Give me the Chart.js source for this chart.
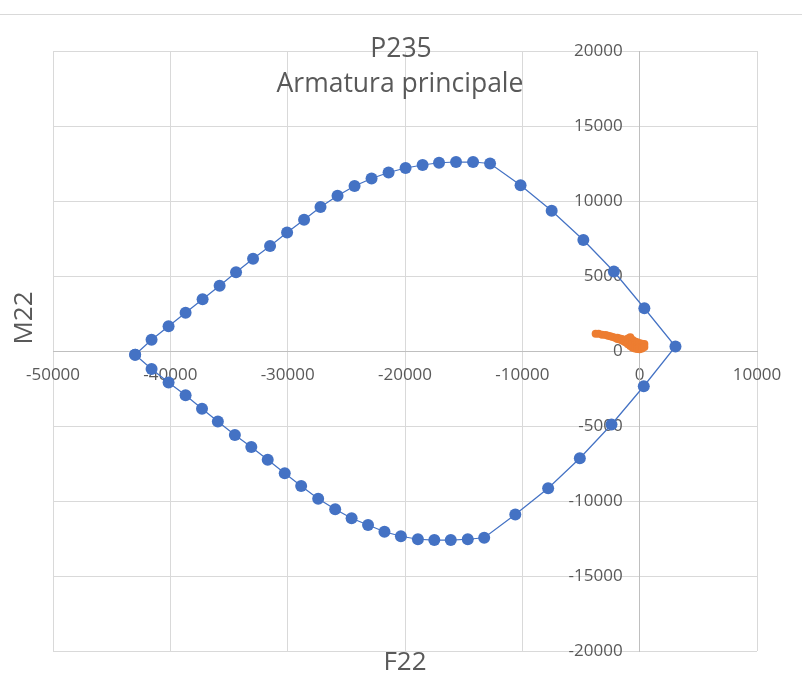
<!DOCTYPE html>
<html>
<head>
<meta charset="utf-8">
<script src="https://cdn.jsdelivr.net/npm/chart.js@4.4.1/dist/chart.umd.min.js"></script>
<style>
  html, body { margin: 0; padding: 0; background: #fff; }
  #wrap { width: 802px; height: 673px; position: relative; }
</style>
</head>
<body>
<div id="wrap"><canvas id="chart" width="802" height="673"></canvas></div>
<script>
// dominio di interazione (F22, M22) - armatura principale
const blueF22 = [-43000, -41600, -40150, -38700, -37250, -35800, -34400, -32950, -31500, -30050,
  -28600, -27200, -25750, -24300, -22850, -21400, -19950, -18500, -17100, -15650,
  -14200, -12750, -10150, -7500, -4800, -2200, 400, 3050,
  350, -2400, -5100, -7800, -10600, -13250, -14650, -16100, -17500, -18900,
  -20350, -21750, -23150, -24550, -25950, -27400, -28850, -30250, -31700, -33100,
  -34500, -35950, -37300, -38700, -40150, -41600, -43000];
const blueM22 = [-250, 750, 1650, 2550, 3450, 4350, 5250, 6150, 7000, 7900,
  8750, 9600, 10350, 11000, 11500, 11900, 12200, 12400, 12550, 12600,
  12600, 12500, 11050, 9350, 7400, 5300, 2850, 300,
  -2350, -4900, -7150, -9150, -10900, -12450, -12550, -12600, -12600, -12550,
  -12350, -12050, -11600, -11150, -10550, -9850, -9000, -8150, -7250, -6400,
  -5600, -4700, -3850, -2950, -2100, -1200, -250];

// sollecitazioni agenti
const orangeF22 = [-3750, -3500, -3200, -2900, -2700, -2500, -2300, -2100, -1900, -1900,
  -1700, -1700, -1500, -1500, -1300, -1300, -1150, -1150, -1000, -1000,
  -1000, -800, -800, -800, -600, -600, -600, -400, -400, -400,
  -200, -200, -200, 0, 0, 0, 200, 200, 200, 400, 400];
const orangeM22 = [1150, 1150, 1080, 1060, 1020, 980, 940, 890, 880, 800,
  840, 760, 800, 700, 740, 620, 720, 560, 830, 600,
  450, 910, 650, 330, 730, 500, 220, 630, 400, 170,
  580, 350, 140, 510, 300, 110, 490, 280, 170, 470, 270];

const xTicks = [-50000, -40000, -30000, -20000, -10000, 0, 10000];
const yTicks = [-20000, -15000, -10000, -5000, 0, 5000, 10000, 15000, 20000];

const chartTitle = ['P235', 'Armatura principale'];
const xTitle = 'F22';
const yTitle = 'M22';

function toPoints(xs, ys) {
    var pts = [];
    for (var i = 0; i < xs.length; i++) pts.push({x: xs[i], y: ys[i]});
    return pts;
}

const textColor = '#595959';
const fontFamily = "'Open Sans', 'Noto Sans', sans-serif";

// titoli disegnati sopra l'area del grafico, come in Excel
const overlayTitles = {
    id: 'overlayTitles',
    beforeDraw(chart) {
        const c = chart.ctx;
        c.save();
        c.strokeStyle = '#d9d9d9';
        c.lineWidth = 1;
        c.beginPath();
        c.moveTo(0, 14.5);
        c.lineTo(chart.width, 14.5);
        c.stroke();
        c.restore();
    },
    afterDraw(chart) {
        const c = chart.ctx;
        const area = chart.chartArea;
        const cx = (area.left + area.right) / 2;
        c.save();
        c.fillStyle = textColor;
        c.textAlign = 'center';
        c.textBaseline = 'alphabetic';
        c.font = '26.5px ' + fontFamily;
        c.fillText(chartTitle[0], cx - 4, 57);
        c.fillText(chartTitle[1], cx - 5, 92);
        c.font = '26px ' + fontFamily;
        c.fillText(xTitle, cx, 670);
        c.translate(32, 318);
        c.rotate(-Math.PI / 2);
        c.fillText(yTitle, 0, 0);
        c.restore();
    }
};

function gridColor(ctx) {
    return ctx.tick && ctx.tick.value === 0 ? '#bfbfbf' : '#d9d9d9';
}

function plainLabel(value) {
    return String(value);
}

// l'asse y centrato allinea le etichette sulla linea: spazio finale per staccarle
function yLabel(value) {
    return String(value) + '\u2003';
}

new Chart(document.getElementById('chart'), {
    type: 'scatter',
    data: {
        datasets: [{
            label: 'Dominio',
            data: toPoints(blueF22, blueM22),
            showLine: true,
            borderColor: '#4472C4',
            borderWidth: 1.25,
            backgroundColor: '#4472C4',
            pointRadius: 6,
            pointBorderWidth: 0,
            pointBackgroundColor: '#4472C4'
        }, {
            label: 'Sollecitazioni',
            data: toPoints(orangeF22, orangeM22),
            showLine: false,
            backgroundColor: '#ED7D31',
            borderColor: '#ED7D31',
            pointRadius: 4,
            pointBorderWidth: 0,
            pointBackgroundColor: '#ED7D31'
        }]
    },
    options: {
        responsive: false,
        animation: false,
        layout: { padding: { left: 53, right: 45, top: 51, bottom: 22 } },
        plugins: {
            legend: { display: false },
            title: { display: false },
            tooltip: { enabled: false }
        },
        scales: {
            x: {
                type: 'linear',
                min: -50000,
                max: 10000,
                position: { y: 0 },
                afterBuildTicks: function(scale) {
                    scale.ticks = xTicks.map(function(v) { return {value: v}; });
                },
                grid: { color: gridColor, drawTicks: true, tickLength: 12, tickColor: 'rgba(0,0,0,0)', lineWidth: 1 },
                border: { display: true, color: '#bfbfbf' },
                ticks: {
                    padding: 2,
                    color: textColor,
                    font: { family: fontFamily, size: 17 },
                    maxRotation: 0,
                    autoSkip: false,
                    callback: plainLabel
                }
            },
            y: {
                type: 'linear',
                min: -20000,
                max: 20000,
                position: { x: 0 },
                afterBuildTicks: function(scale) {
                    scale.ticks = yTicks.map(function(v) { return {value: v}; });
                },
                grid: { color: gridColor, drawTicks: true, tickLength: 15, tickColor: 'rgba(0,0,0,0)', lineWidth: 1 },
                border: { display: true, color: '#bfbfbf' },
                ticks: {
                    padding: 3,
                    color: textColor,
                    font: { family: fontFamily, size: 17 },
                    autoSkip: false,
                    callback: yLabel
                }
            }
        }
    },
    plugins: [overlayTitles]
});
</script>
</body>
</html>
